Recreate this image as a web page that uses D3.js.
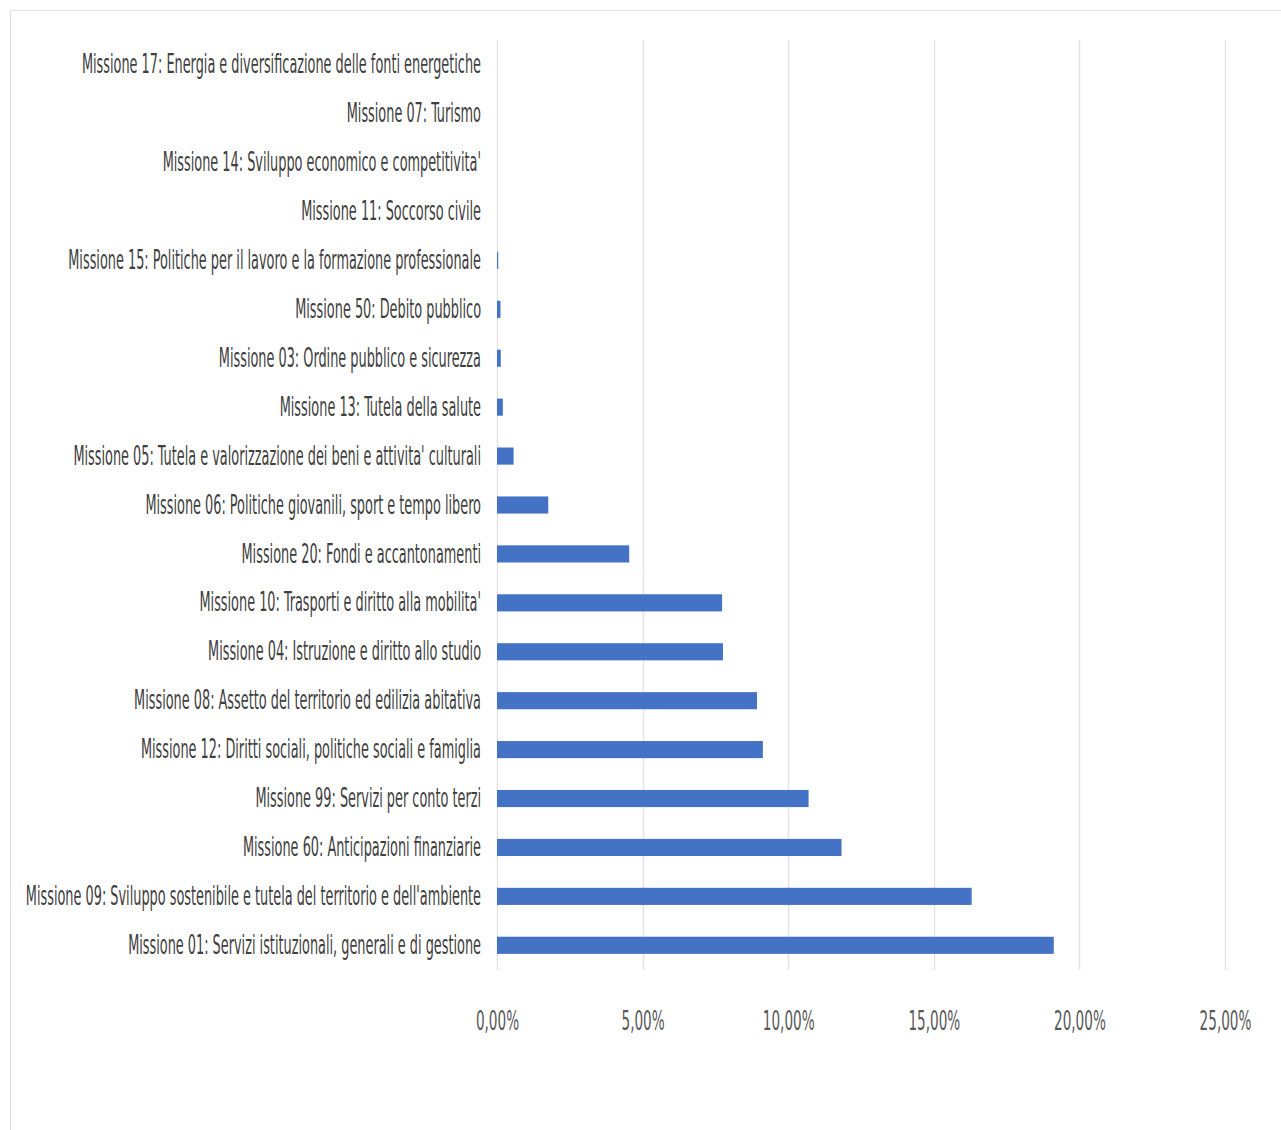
<!DOCTYPE html>
<html>
<head>
<meta charset="utf-8">
<script src="https://cdn.jsdelivr.net/npm/d3@7"></script>
<style>
  body { margin: 0; background: #fff; }
  svg { display: block; }
</style>
</head>
<body>
<div id="chart"></div>
<script>
// categories, top to bottom as drawn
var missions = [
  "Missione 17: Energia e diversificazione delle fonti energetiche",
  "Missione 07: Turismo",
  "Missione 14: Sviluppo economico e competitivita'",
  "Missione 11: Soccorso civile",
  "Missione 15: Politiche per il lavoro e la formazione professionale",
  "Missione 50: Debito pubblico",
  "Missione 03: Ordine pubblico e sicurezza",
  "Missione 13: Tutela della salute",
  "Missione 05: Tutela e valorizzazione dei beni e attivita' culturali",
  "Missione 06: Politiche giovanili, sport e tempo libero",
  "Missione 20: Fondi e accantonamenti",
  "Missione 10: Trasporti e diritto alla mobilita'",
  "Missione 04: Istruzione e diritto allo studio",
  "Missione 08: Assetto del territorio ed edilizia abitativa",
  "Missione 12: Diritti sociali, politiche sociali e famiglia",
  "Missione 99: Servizi per conto terzi",
  "Missione 60: Anticipazioni finanziarie",
  "Missione 09: Sviluppo sostenibile e tutela del territorio e dell'ambiente",
  "Missione 01: Servizi istituzionali, generali e di gestione"
];
// share of spending (fraction)
var shares = [
  0, 0, 0, 0, 0.0004, 0.0012, 0.0013, 0.0020, 0.0057, 0.0176,
  0.0454, 0.0773, 0.0776, 0.0893, 0.0913, 0.1070, 0.1183, 0.1630, 0.1912
];
var xTicks = [0, 0.05, 0.10, 0.15, 0.20, 0.25];

var data = missions.map(function(m, i) { return {name: m, value: shares[i]}; });

var W = 1281, H = 1130;
var margin = {top: 40, right: 56, bottom: 160, left: 497},
    width = W - margin.left - margin.right,
    height = H - margin.top - margin.bottom;
// text in the picture is horizontally compressed
var squeezeY = 0.53, squeezeX = 0.56;
var narrow = "'Liberation Sans Narrow', 'DejaVu Sans Condensed', sans-serif";

var it = d3.formatLocale({decimal: ",", thousands: ".", grouping: [3], currency: ["", " €"]});
var pct = it.format(".2%");

var root = d3.select("#chart").append("svg")
    .attr("width", W)
    .attr("height", H);

// light frame around the chart area
root.append("rect")
    .attr("x", 10.5).attr("y", 10.5)
    .attr("width", W).attr("height", H)
    .attr("fill", "none")
    .attr("stroke", "#e3e3e3");

var svg = root.append("g")
    .attr("transform", "translate(" + margin.left + "," + margin.top + ")");

var x = d3.scaleLinear()
    .domain([0, 0.25])
    .range([0, width]);

var y = d3.scaleBand()
    .domain(missions)
    .range([0, height])
    .paddingInner(0.65)
    .paddingOuter(0.33);

// vertical gridlines
svg.append("g")
    .selectAll("line")
    .data(xTicks)
    .enter()
    .append("line")
      .attr("x1", function(d) { return Math.round(x(d)) + 0.5; })
      .attr("x2", function(d) { return Math.round(x(d)) + 0.5; })
      .attr("y1", 0)
      .attr("y2", height)
      .attr("stroke", "#e4e4e4")
      .attr("stroke-width", 1.5);

// X axis labels (no line)
var xAxis = svg.append("g")
    .attr("transform", "translate(0," + height + ")")
    .call(d3.axisBottom(x).tickValues(xTicks).tickFormat(pct).tickSize(0).tickPadding(41));
xAxis.select(".domain").remove();
xAxis.selectAll("text")
    .attr("transform", "scale(" + squeezeX + ",1)")
    .style("font-family", narrow)
    .style("font-size", "27px")
    .style("fill", "#595959");

// Y axis labels
var yAxis = svg.append("g")
    .call(d3.axisLeft(y).tickSize(0).tickPadding(16));
yAxis.select(".domain").remove();
yAxis.selectAll("text")
    .attr("x", -16 / squeezeY)
    .attr("transform", "scale(" + squeezeY + ",1)")
    .style("font-family", narrow)
    .style("font-size", "27px")
    .style("fill", "#404040");

// Bars
svg.selectAll("mybar")
    .data(data)
    .enter()
    .append("rect")
      .attr("x", x(0))
      .attr("y", function(d) { return y(d.name); })
      .attr("width", function(d) { return x(d.value) - x(0); })
      .attr("height", y.bandwidth())
      .attr("fill", "#4472C4");
</script>
</body>
</html>
